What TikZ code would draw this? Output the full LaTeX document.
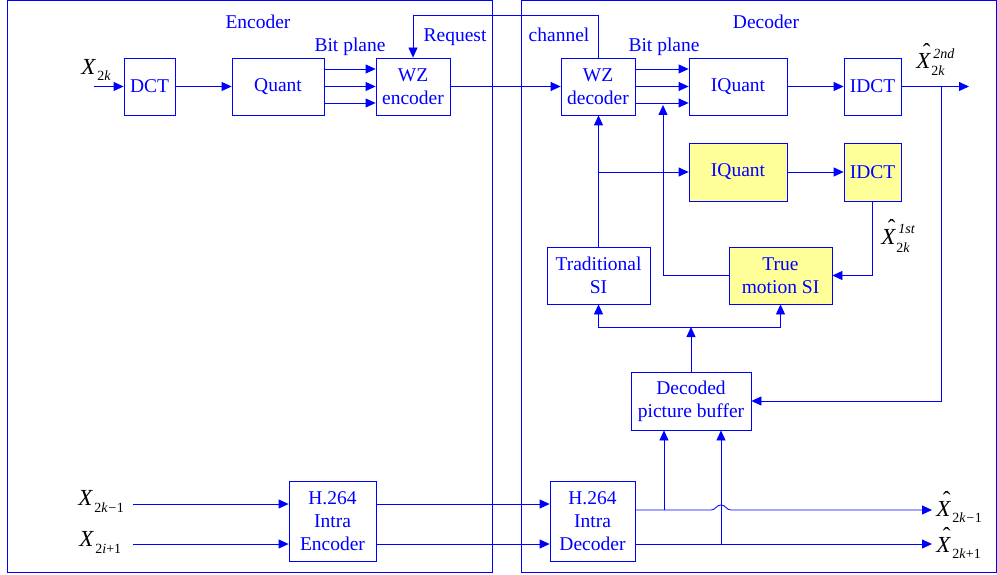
\documentclass[tikz,border=0pt]{standalone}
\usepackage{fontspec}
\setmainfont{Liberation Serif}
\usetikzlibrary{arrows.meta,calc}
\definecolor{lb}{RGB}{0,0,255}
\definecolor{yel}{RGB}{255,255,153}
\newcommand{\bigX}[1]{{\fontsize{23}{23}\selectfont\itshape #1}}
\newcommand{\subs}[2]{\raisebox{-#1}{\fontsize{14}{14}\selectfont #2}}
\newcommand{\sups}[2]{\raisebox{#1}{\fontsize{14}{14}\selectfont\itshape #2}}
\newcommand{\Xhat}{\rlap{\kern6.5pt\raisebox{9pt}{\upshape\char"02C6}}X}
\newcommand{\mns}{\kern0.5pt\char"2212\kern0.5pt}
\begin{document}
\begin{tikzpicture}[x=1pt,y=-1pt,line width=0.8pt,
  box/.style={draw=lb,text=lb,minimum height=57pt,inner sep=0pt,align=center,
    font=\fontsize{19.5}{23}\selectfont},
  ybox/.style={box,fill=yel},
  arr/.style={draw=lb,-{Triangle[length=10pt,width=9pt]}},
  ln/.style={draw=lb},
  lbl/.style={text=lb,inner sep=0pt,anchor=base,font=\fontsize{19.5}{23}\selectfont},
  xlbl/.style={text=black,inner sep=0pt,anchor=base west}]
\useasboundingbox (0,0) rectangle (997,575);
% frames
\draw[ln] (7,0.6) rectangle (492,572);
\draw[ln] (521,0.6) rectangle (996,572);
% boxes
\node[box,minimum width=51pt] (DCT) at (149.5,86.5) {DCT};
\node[box,minimum width=92pt] (Q) at (278,86.5) {Quant};
\node[box,minimum width=74pt] (WZE) at (413,86.5) {WZ\\encoder};
\node[box,minimum width=74pt] (WZD) at (598,86.5) {WZ\\decoder};
\node[box,minimum width=98pt] (IQ1) at (738,86.5) {IQuant};
\node[box,minimum width=57pt] (ID1) at (872.5,86.5) {IDCT};
\node[ybox,minimum width=98pt,minimum height=58pt] (IQ2) at (738,172) {IQuant};
\node[ybox,minimum width=57pt,minimum height=58pt] (ID2) at (872.5,172) {IDCT};
\node[box,minimum width=103pt] (TSI) at (598.5,275.5) {Traditional\\SI};
\node[ybox,minimum width=103pt] (TMSI) at (780.5,275.5) {True\\motion SI};
\node[box,minimum width=120pt,minimum height=58pt] (DPB) at (691,401) {Decoded\\picture buffer};
\node[box,minimum width=87pt,minimum height=80pt] (HE) at (332.5,521) {H.264\\Intra\\Encoder};
\node[box,minimum width=85pt,minimum height=80pt] (HD) at (592.5,521) {H.264\\Intra\\Decoder};
% text labels
\node[lbl] (tenc) at (258,29) {Encoder};
\node[lbl] (tbp1) at (350,52) {Bit plane};
\node[lbl] (treq) at (455,42) {Request};
\node[lbl] (tch) at (559,42) {channel};
\node[lbl] (tdec) at (766,29) {Decoder};
\node[lbl] (tbp2) at (664,52) {Bit plane};
% math labels
\node[xlbl] (lx2k) at (81,75) {\bigX{X}\kern2pt\subs{6pt}{2\textit{k}}};
\node[xlbl] (lxa) at (78,505) {\bigX{X}\kern2pt\subs{7pt}{2\textit{k}\mns1}};
\node[xlbl] (lxb) at (79,546) {\bigX{X}\kern2pt\subs{7pt}{2\textit{i}+1}};
\node[xlbl] (lo2) at (916,69) {\bigX{\Xhat}\kern1pt\rlap{\subs{7pt}{2\textit{k}}}\kern2pt\sups{10pt}{2nd}};
\node[xlbl] (lo1) at (881,244) {\bigX{\Xhat}\kern1pt\rlap{\subs{9pt}{2\textit{k}}}\kern2pt\sups{11pt}{1st}};
\node[xlbl] (loa) at (936,516) {\bigX{\Xhat}\kern2pt\subs{6pt}{2\textit{k}\mns1}};
\node[xlbl] (lob) at (936,552) {\bigX{\Xhat}\kern2pt\subs{6pt}{2\textit{k}+1}};
% coordinates
\coordinate (in2k) at (94,86.5);
\coordinate (req) at (413,15);
\coordinate (out2) at (969,86.5);
\coordinate (fb) at (941,86.5);
\coordinate (tmtip) at (663,105);
\coordinate (split) at (691,327);
\coordinate (ina) at (133,504);
\coordinate (inb) at (133,544);
\coordinate (outa) at (932,510);
\coordinate (outb) at (932,544);
\coordinate (ba) at (664,510);
\coordinate (bb) at (721,544);
% encoder connectors
\draw[arr] (in2k) -- (DCT.west);
\draw[arr] (DCT.east) -- (Q.west);
\foreach \s in {17.5,0,-16.5}{
  \draw[arr] ([yshift=\s pt]Q.east) -- ([yshift=\s pt]WZE.west);
  \draw[arr] ([yshift=\s pt]WZD.east) -- ([yshift=\s pt]IQ1.west);
}
\draw[arr] (WZD.north) |- (req) -- (WZE.north);
\draw[arr] (WZE.east) -- (WZD.west);
\draw[arr] (IQ1.east) -- (ID1.west);
\draw[arr] (ID1.east) -- (out2);
\draw[arr] (fb) |- (DPB.east);
\draw[arr] (TSI.north) -- (TSI.north |- WZD.south);
\draw[arr] (TSI.north |- IQ2.west) -- (IQ2.west);
\draw[arr] (IQ2.east) -- (ID2.west);
\draw[arr] (ID2.south) |- (TMSI.east);
\draw[arr] (TMSI.west) -| (tmtip);
\draw[arr] (DPB.north) -- (split);
\draw[arr] (split) -| (TSI.south);
\draw[arr] (split) -| (TMSI.south);
% H.264 path
\draw[arr] (ina) -- (HE.west |- ina);
\draw[arr] (inb) -- (HE.west |- inb);
\draw[arr] (HE.east |- ina) -- (HD.west |- ina);
\draw[arr] (HE.east |- inb) -- (HD.west |- inb);
\draw[arr] (HD.east |- outa) -- (711,510) .. controls (716,510) and (716,505) .. (721,505)
   .. controls (726,505) and (726,510) .. (731,510) -- (outa);
\draw[arr] (HD.east |- outb) -- (outb);
\draw[arr] (ba) -- (ba |- DPB.south);
\draw[arr] (bb) -- (bb |- DPB.south);
\end{tikzpicture}
\end{document}
